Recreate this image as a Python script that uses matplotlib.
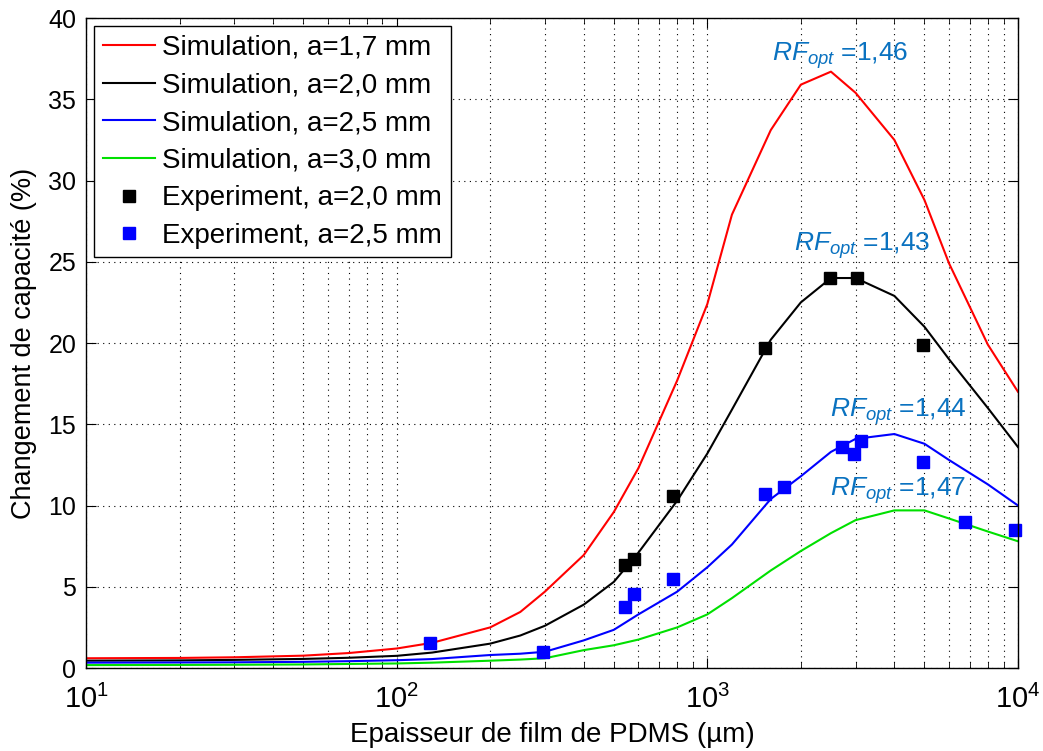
import matplotlib
matplotlib.use("Agg")
import matplotlib.pyplot as plt
from matplotlib.ticker import LogLocator, NullFormatter, FuncFormatter
import numpy as np

plt.rcParams["font.family"] = ["Liberation Sans", "DejaVu Sans"]
plt.rcParams["mathtext.fontset"] = "custom"
plt.rcParams["mathtext.rm"] = "Liberation Sans"
plt.rcParams["mathtext.it"] = "Liberation Sans:italic"

# simulation thickness (um) and capacitance change (%)
x_sim = [10, 20, 30, 50, 70, 100, 130, 200, 250, 300, 400, 500, 600, 800,
         1000, 1200, 1600, 2000, 2500, 3000, 4000, 5000, 6000, 8000, 10000]
sim_17 = [0.6, 0.62, 0.66, 0.76, 0.92, 1.2, 1.55, 2.5, 3.45, 4.7, 6.95, 9.6, 12.3, 17.7,
          22.4, 27.9, 33.1, 35.9, 36.7, 35.4, 32.5, 28.8, 24.9, 19.9, 17.0]
sim_20 = [0.45, 0.47, 0.5, 0.56, 0.63, 0.75, 0.95, 1.5, 2.0, 2.6, 3.9, 5.3, 7.1, 10.3,
          13.2, 15.9, 20.2, 22.5, 24.0, 24.0, 22.9, 21.0, 19.0, 16.0, 13.6]
sim_25 = [0.33, 0.34, 0.35, 0.38, 0.42, 0.48, 0.55, 0.8, 0.88, 1.0, 1.7, 2.35, 3.3, 4.7,
          6.2, 7.6, 10.4, 11.8, 13.3, 14.1, 14.4, 13.8, 12.8, 11.3, 10.0]
sim_30 = [0.18, 0.19, 0.2, 0.22, 0.25, 0.28, 0.33, 0.45, 0.52, 0.6, 1.1, 1.4, 1.75, 2.5,
          3.3, 4.3, 6.0, 7.2, 8.3, 9.1, 9.7, 9.7, 9.2, 8.4, 7.8]

# experiments
x_exp20 = [543, 581, 775, 1530, 2483, 3030, 4940]
y_exp20 = [6.34, 6.7, 10.6, 19.7, 24.0, 24.0, 19.9]
x_exp25 = [128, 296, 543, 581, 775, 1531, 1766, 2710, 2960, 3130, 4940, 6760, 9800]
y_exp25 = [1.55, 1.0, 3.75, 4.55, 5.5, 10.7, 11.15, 13.6, 13.2, 14.0, 12.7, 9.0, 8.5]

sim_labels = ["Simulation, a=1,7 mm", "Simulation, a=2,0 mm",
              "Simulation, a=2,5 mm", "Simulation, a=3,0 mm"]
sim_colors = ["#ff0000", "#000000", "#0000ff", "#00e000"]

# annotations: text, x, y
rf_texts = ["$RF_{opt}$ =1,46", "$RF_{opt}$ =1,43", "$RF_{opt}$ =1,44", "$RF_{opt}$ =1,47"]
rf_x = [1620, 1900, 2483, 2483]
rf_y = [37.7, 26.0, 15.8, 10.9]

fig = plt.figure(figsize=(10.43, 7.51), dpi=100)
ax = fig.add_axes([0.0825, 0.1105, 0.8935, 0.8655])

for ys, lab, col in zip([sim_17, sim_20, sim_25, sim_30], sim_labels, sim_colors):
    ax.plot(x_sim, ys, color=col, lw=1.5, label=lab)
ax.plot(x_exp20, y_exp20, ls="none", marker="s", ms=8, color="black",
        label="Experiment, a=2,0 mm", clip_on=False)
ax.plot(x_exp25, y_exp25, ls="none", marker="s", ms=8, color="#0000ff",
        label="Experiment, a=2,5 mm", clip_on=False)

for t, tx, ty in zip(rf_texts, rf_x, rf_y):
    ax.text(tx, ty, t, color="#0a72c0", fontsize=19, va="center", ha="left")

ax.set_xscale("log")
ax.set_xlim(10, 1e4)
ax.set_ylim(0, 40)
ax.set_yticks(range(0, 41, 5))
ax.xaxis.set_major_formatter(FuncFormatter(lambda v, p: "10$^{%d}$" % round(np.log10(v))))
ax.xaxis.set_minor_locator(LogLocator(base=10, subs=range(2, 10), numticks=20))
ax.xaxis.set_minor_formatter(NullFormatter())
ax.tick_params(which="both", direction="in", top=True, right=True)
ax.tick_params(axis="y", labelsize=18, pad=7)
ax.tick_params(axis="x", labelsize=21, pad=12)
ax.tick_params(which="major", length=7)
ax.tick_params(which="minor", length=4)
grid_style = dict(ls=(0, (1, 4)), color="black", lw=0.8)
ax.grid(True, which="major", **grid_style)
ax.grid(True, which="minor", axis="x", **grid_style)
for s in ax.spines.values():
    s.set_linewidth(1.0)

ax.set_xlabel("Epaisseur de film de PDMS (µm)", fontsize=20, labelpad=6)
ax.set_ylabel("Changement de capacité (%)", fontsize=19.5, labelpad=8)

leg = ax.legend(loc="upper left", fontsize=20, fancybox=False, framealpha=1,
                edgecolor="black", borderaxespad=0.3, labelspacing=0.42,
                handlelength=1.9, handletextpad=0.25, borderpad=0.3)
leg.get_frame().set_linewidth(1.0)

fig.savefig("out.png", dpi=100)
